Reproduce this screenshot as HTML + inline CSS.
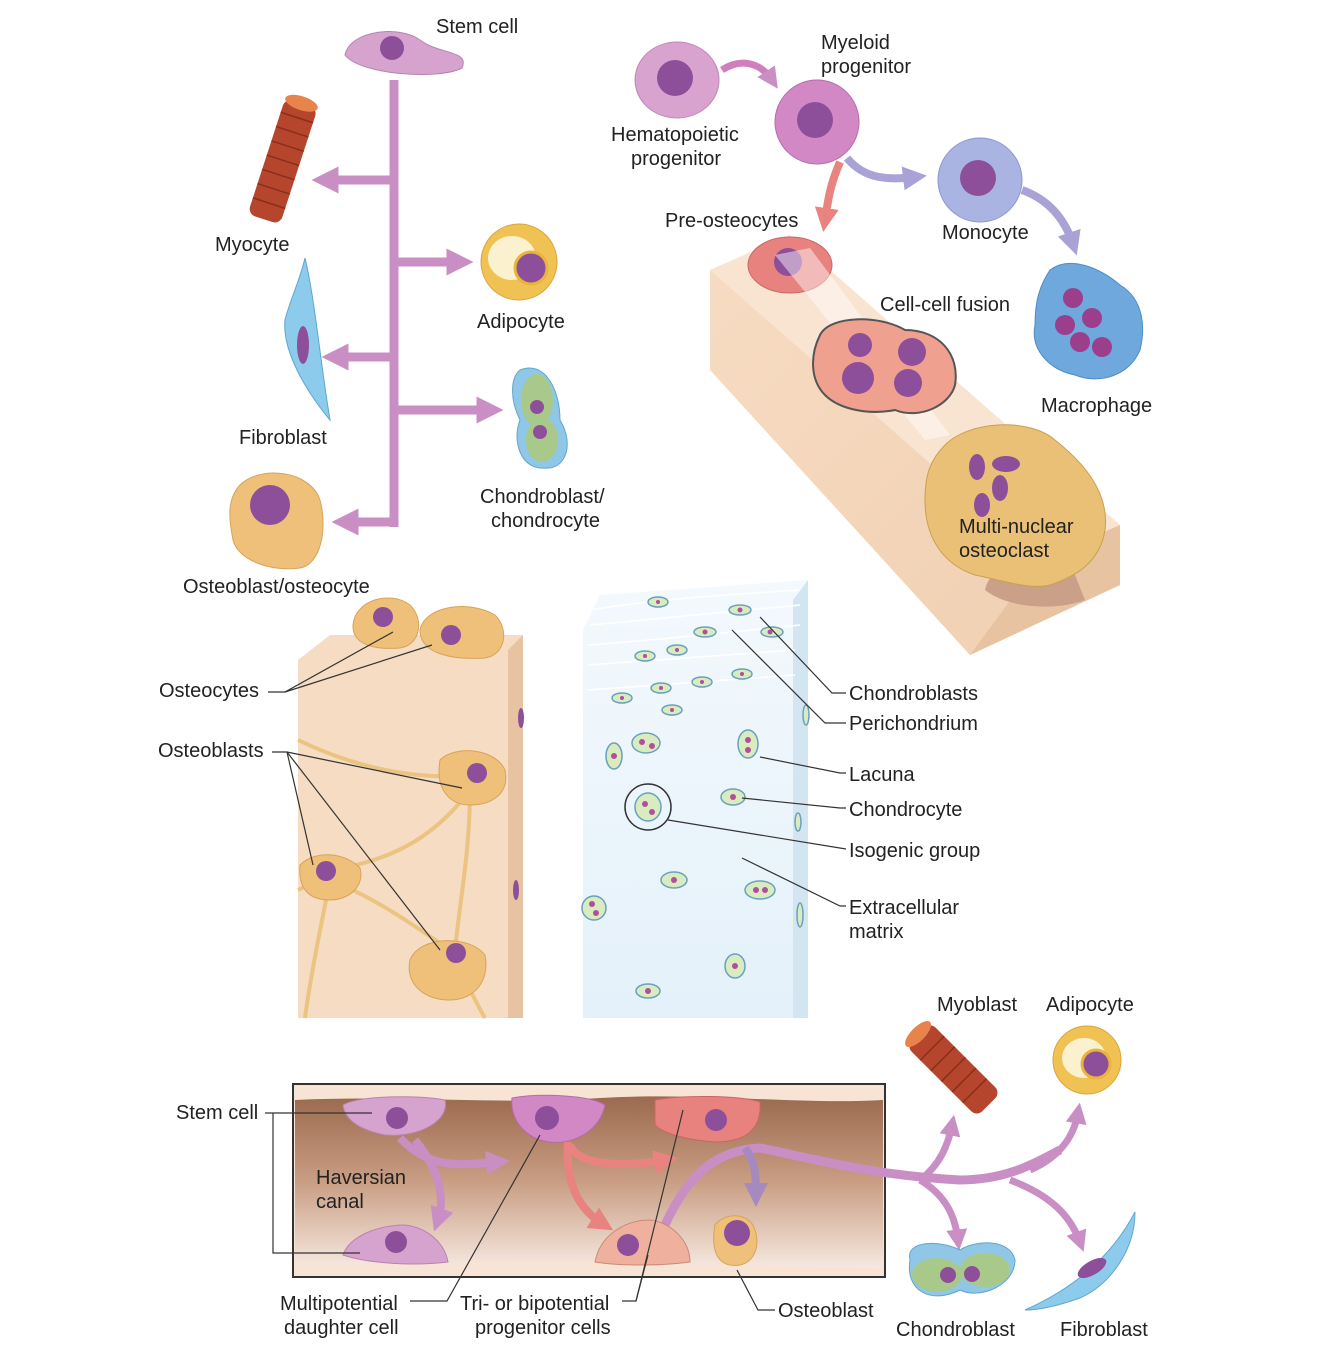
<!DOCTYPE html>
<html><head><meta charset="utf-8"><style>
html,body{margin:0;padding:0;background:#fff;}
svg{display:block;}
text{font-family:"Liberation Sans",sans-serif;font-size:20px;fill:#222;}
</style></head><body>
<svg width="1334" height="1354" viewBox="0 0 1334 1354" xmlns="http://www.w3.org/2000/svg">
<defs>
<marker id="ap" markerWidth="3" markerHeight="3" refX="1.5" refY="1.5" orient="auto" markerUnits="strokeWidth"><path d="M0,0 L3,1.5 L0,3 Z" fill="#c98fc4"/></marker>
<marker id="ar" markerWidth="3" markerHeight="3" refX="1.5" refY="1.5" orient="auto" markerUnits="strokeWidth"><path d="M0,0 L3,1.5 L0,3 Z" fill="#e8837f"/></marker>
<marker id="av" markerWidth="3" markerHeight="3" refX="1.5" refY="1.5" orient="auto" markerUnits="strokeWidth"><path d="M0,0 L3,1.5 L0,3 Z" fill="#a9a2d6"/></marker>
<marker id="am" markerWidth="3" markerHeight="3" refX="1.5" refY="1.5" orient="auto" markerUnits="strokeWidth"><path d="M0,0 L3,1.5 L0,3 Z" fill="#a58ac0"/></marker>
<linearGradient id="canal" x1="0" y1="0" x2="0" y2="1"><stop offset="0" stop-color="#9c6a4e"/><stop offset="0.5" stop-color="#c99e84"/><stop offset="1" stop-color="#f6e8e0"/></linearGradient>
<linearGradient id="beam" x1="0" y1="0" x2="1" y2="1"><stop offset="0" stop-color="#f7dcc3"/><stop offset="1" stop-color="#f0cfb1"/></linearGradient>
<linearGradient id="cart" x1="0" y1="0" x2="0" y2="1"><stop offset="0" stop-color="#f3f9fd"/><stop offset="1" stop-color="#e4f1fa"/></linearGradient>
</defs>

<g stroke="#c98fc4" stroke-width="9" fill="none">
<line x1="394" y1="80" x2="394" y2="527"/>
<line x1="394" y1="180" x2="325" y2="180" marker-end="url(#ap)"/>
<line x1="394" y1="262" x2="460" y2="262" marker-end="url(#ap)"/>
<line x1="394" y1="357" x2="335" y2="357" marker-end="url(#ap)"/>
<line x1="394" y1="410" x2="490" y2="410" marker-end="url(#ap)"/>
<line x1="398" y1="522" x2="345" y2="522" marker-end="url(#ap)"/>
</g>
<path d="M345,55 C350,30 400,25 420,40 C440,55 470,50 462,68 C440,80 360,75 345,55Z" fill="#d6a3cf" stroke="#b684b0"/>
<circle cx="392" cy="48" r="12" fill="#8e4f9a"/>
<text x="436" y="33">Stem cell</text>

<g transform="rotate(18 282 160)">
<rect x="266" y="100" width="34" height="122" rx="8" fill="#b5452c"/>
<g stroke="#8a2e1c" stroke-width="1.5">
<line x1="266" y1="115" x2="300" y2="115"/><line x1="266" y1="130" x2="300" y2="130"/><line x1="266" y1="145" x2="300" y2="145"/><line x1="266" y1="160" x2="300" y2="160"/><line x1="266" y1="175" x2="300" y2="175"/><line x1="266" y1="190" x2="300" y2="190"/><line x1="266" y1="205" x2="300" y2="205"/></g>
<ellipse cx="283" cy="100" rx="17" ry="7" fill="#e8834c"/>
</g>
<text x="215" y="251">Myocyte</text>

<circle cx="519" cy="262" r="38" fill="#efc253" stroke="#d9a53c"/>
<ellipse cx="512" cy="258" rx="24" ry="22" fill="#fbf1cf"/>
<circle cx="531" cy="268" r="16" fill="#8e4f9a" stroke="#e8b43b" stroke-width="3"/>
<text x="477" y="328">Adipocyte</text>

<path d="M305,258 C315,300 320,360 330,420 C305,390 282,350 285,320 C290,300 300,280 305,258Z" fill="#8dcbec" stroke="#5ea7d0"/>
<ellipse cx="303" cy="345" rx="6" ry="19" fill="#8e4f9a"/>
<text x="239" y="444">Fibroblast</text>

<path d="M520,370 C545,360 560,390 560,420 C575,445 565,470 545,468 C520,470 512,440 520,420 C510,400 510,378 520,370Z" fill="#90c7e6" stroke="#5ea7d0"/>
<ellipse cx="537" cy="400" rx="16" ry="26" fill="#a8c98a"/>
<ellipse cx="542" cy="440" rx="16" ry="22" fill="#a8c98a"/>
<circle cx="537" cy="407" r="7" fill="#8e4f9a"/><circle cx="540" cy="432" r="7" fill="#8e4f9a"/>
<text x="480" y="503">Chondroblast/</text>
<text x="491" y="527">chondrocyte</text>

<path d="M240,485 C260,465 310,470 320,500 C328,530 320,565 300,568 C270,572 238,560 233,540 C228,515 228,498 240,485Z" fill="#eec079" stroke="#d8a35a"/>
<circle cx="270" cy="505" r="20" fill="#8e4f9a"/>
<text x="183" y="593">Osteoblast/osteocyte</text>

<path d="M710,270 L790,235 L1120,525 L1120,585 L970,655 L710,370Z" fill="url(#beam)"/>
<path d="M710,270 L790,235 L1120,525 L1040,560Z" fill="#f9e4d2"/>
<path d="M1040,560 L1120,525 L1120,585 L970,655Z" fill="#e8c3a2"/>
<path d="M985,590 C990,560 1040,560 1075,575 L1085,600 C1060,610 1010,610 985,590Z" fill="#caa088"/>
<ellipse cx="677" cy="80" rx="42" ry="38" fill="#d9a3d0" stroke="#bf86b8"/>
<circle cx="675" cy="78" r="18" fill="#8e4f9a"/>
<text x="611" y="141">Hematopoietic</text>
<text x="631" y="165">progenitor</text>
<path d="M722,70 C740,58 760,62 772,80" stroke="#d07fbd" stroke-width="7" fill="none" marker-end="url(#ap)"/>
<circle cx="817" cy="122" r="42" fill="#d388c6" stroke="#b66aab"/>
<circle cx="815" cy="120" r="18" fill="#8e4f9a"/>
<text x="821" y="49">Myeloid</text>
<text x="821" y="73">progenitor</text>
<path d="M847,158 C865,180 890,180 915,177" stroke="#a9a2d6" stroke-width="8" fill="none" marker-end="url(#av)"/>
<path d="M840,162 C830,185 828,200 825,220" stroke="#e8837f" stroke-width="8" fill="none" marker-end="url(#ar)"/>
<text x="665" y="227">Pre-osteocytes</text>
<circle cx="980" cy="180" r="42" fill="#aab4e3" stroke="#8d97cf"/>
<circle cx="978" cy="178" r="18" fill="#8e4f9a"/>
<text x="942" y="239">Monocyte</text>
<path d="M1022,190 C1050,200 1065,220 1073,244" stroke="#a9a2d6" stroke-width="8" fill="none" marker-end="url(#av)"/>
<path d="M1050,270 C1070,255 1100,268 1120,285 C1145,300 1145,330 1140,350 C1130,375 1100,385 1075,375 C1050,370 1030,350 1035,325 C1035,300 1040,285 1050,270Z" fill="#6fa8dc" stroke="#4f8cc4"/>
<circle cx="1073" cy="298" r="10" fill="#9b3f8c"/><circle cx="1092" cy="318" r="10" fill="#9b3f8c"/><circle cx="1065" cy="325" r="10" fill="#9b3f8c"/><circle cx="1080" cy="342" r="10" fill="#9b3f8c"/><circle cx="1102" cy="347" r="10" fill="#9b3f8c"/>
<text x="1041" y="412">Macrophage</text>
<ellipse cx="790" cy="265" rx="42" ry="28" fill="#e8827f" stroke="#c86664"/>
<circle cx="788" cy="262" r="14" fill="#8e4f9a"/>
<path d="M775,255 L810,248 L950,435 L925,440Z" fill="#fff" opacity="0.45"/>
<text x="880" y="311">Cell-cell fusion</text>
<path d="M820,335 C830,315 880,315 905,330 C940,330 960,355 955,385 C950,405 920,420 895,410 C870,415 840,410 825,395 C810,380 810,355 820,335Z" fill="#f0a08f" stroke="#555" stroke-width="2"/>
<circle cx="858" cy="378" r="16" fill="#8e4f9a"/><circle cx="912" cy="352" r="14" fill="#8e4f9a"/><circle cx="908" cy="383" r="14" fill="#8e4f9a"/><circle cx="860" cy="345" r="12" fill="#8e4f9a"/>
<path d="M945,445 C970,420 1030,418 1055,440 C1080,460 1110,490 1105,530 C1100,560 1080,575 1050,585 C1030,590 1000,580 975,575 C945,565 925,540 925,500 C925,475 930,460 945,445Z" fill="#e9c075" stroke="#c9a050"/>
<ellipse cx="977" cy="467" rx="8" ry="13" fill="#8e4f9a"/><ellipse cx="1006" cy="464" rx="14" ry="8" fill="#8e4f9a"/><ellipse cx="1000" cy="488" rx="8" ry="13" fill="#8e4f9a"/><ellipse cx="982" cy="505" rx="8" ry="12" fill="#8e4f9a"/>
<text x="959" y="533">Multi-nuclear</text>
<text x="959" y="557">osteoclast</text>

<path d="M298,660 L330,635 L523,635 L523,1018 L298,1018Z" fill="#f5dcc3"/>
<path d="M508,650 L523,635 L523,1018 L508,1018Z" fill="#e8c3a2"/>
<g stroke="#ebc482" stroke-width="4" fill="none">
<path d="M298,740 C360,770 420,780 470,775"/>
<path d="M470,790 C440,830 400,860 330,870"/>
<path d="M470,790 C470,850 460,900 455,950"/>
<path d="M330,880 C380,900 420,930 450,950"/>
<path d="M330,880 C320,930 310,980 305,1018"/>
<path d="M455,960 C470,990 480,1010 485,1018"/>
<path d="M298,890 L330,875"/>
</g>
<path d="M440,760 C455,745 495,748 505,770 C510,795 490,805 470,805 C450,805 435,790 440,760Z" fill="#eec079" stroke="#d8a35a"/>
<circle cx="477" cy="773" r="10" fill="#8e4f9a"/>
<path d="M300,865 C315,850 345,852 360,868 C365,885 350,900 330,900 C310,900 298,890 300,865Z" fill="#eec079" stroke="#d8a35a"/>
<circle cx="326" cy="871" r="10" fill="#8e4f9a"/>
<path d="M410,960 C420,935 470,935 485,955 C490,980 475,1000 450,1000 C425,1000 405,985 410,960Z" fill="#eec079" stroke="#d8a35a"/>
<circle cx="456" cy="953" r="10" fill="#8e4f9a"/>
<path d="M353,625 C355,600 390,590 410,605 C425,620 420,645 400,648 C375,650 352,645 353,625Z" fill="#eec079" stroke="#d8a35a"/>
<circle cx="383" cy="617" r="10" fill="#8e4f9a"/>
<path d="M420,630 C425,605 470,600 495,615 C510,630 505,655 485,658 C455,660 420,655 420,630Z" fill="#eec079" stroke="#d8a35a"/>
<circle cx="451" cy="635" r="10" fill="#8e4f9a"/>
<ellipse cx="521" cy="718" rx="3" ry="10" fill="#8e4f9a"/><ellipse cx="516" cy="890" rx="3" ry="10" fill="#8e4f9a"/>
<text x="159" y="697">Osteocytes</text>
<text x="158" y="757">Osteoblasts</text>
<g stroke="#333" stroke-width="1.2" fill="none">
<path d="M268,692 L285,692 L393,632"/><path d="M285,692 L432,645"/>
<path d="M272,752 L287,752 L462,788"/><path d="M287,752 L313,865"/><path d="M287,752 L440,950"/>
</g>

<path d="M583,630 L600,595 L808,580 L808,1018 L583,1018Z" fill="url(#cart)"/>
<path d="M793,600 L808,580 L808,1018 L793,1018Z" fill="#d3e5f1"/>
<g fill="none" stroke="#fff" stroke-width="1.5">
<path d="M590,610 C650,600 720,595 800,590"/><path d="M590,625 C660,618 730,612 800,605"/><path d="M588,645 C660,640 730,632 800,625"/><path d="M588,665 C660,660 730,655 795,650"/><path d="M588,690 C660,685 730,680 795,675"/>
</g>
<g fill="#d8ecc0" stroke="#6aa0c0" stroke-width="1.5">
<ellipse cx="658" cy="602" rx="10" ry="5"/><ellipse cx="740" cy="610" rx="11" ry="5"/><ellipse cx="705" cy="632" rx="11" ry="5"/><ellipse cx="772" cy="632" rx="11" ry="5"/>
<ellipse cx="645" cy="656" rx="10" ry="5"/><ellipse cx="677" cy="650" rx="10" ry="5"/><ellipse cx="742" cy="674" rx="10" ry="5"/><ellipse cx="702" cy="682" rx="10" ry="5"/><ellipse cx="661" cy="688" rx="10" ry="5"/><ellipse cx="622" cy="698" rx="10" ry="5"/><ellipse cx="672" cy="710" rx="10" ry="5"/>
<ellipse cx="646" cy="743" rx="14" ry="10"/><ellipse cx="614" cy="756" rx="8" ry="13"/><ellipse cx="748" cy="744" rx="10" ry="14"/><ellipse cx="733" cy="797" rx="12" ry="8"/>
<ellipse cx="648" cy="807" rx="13" ry="14"/><ellipse cx="674" cy="880" rx="13" ry="8"/><ellipse cx="760" cy="890" rx="15" ry="9"/><ellipse cx="594" cy="908" rx="12" ry="12"/><ellipse cx="735" cy="966" rx="10" ry="12"/><ellipse cx="648" cy="991" rx="12" ry="7"/>
<ellipse cx="798" cy="822" rx="3" ry="9"/><ellipse cx="800" cy="915" rx="3" ry="12"/><ellipse cx="806" cy="715" rx="3" ry="10"/>
</g>
<g fill="#b0509a">
<circle cx="658" cy="602" r="2"/><circle cx="740" cy="610" r="2.5"/><circle cx="705" cy="632" r="2.5"/><circle cx="770" cy="632" r="2.5"/><circle cx="645" cy="656" r="2"/><circle cx="677" cy="650" r="2"/><circle cx="742" cy="674" r="2"/><circle cx="702" cy="682" r="2"/><circle cx="661" cy="688" r="2"/><circle cx="622" cy="698" r="2"/><circle cx="672" cy="710" r="2"/>
<circle cx="642" cy="742" r="3"/><circle cx="652" cy="746" r="3"/><circle cx="614" cy="756" r="3"/><circle cx="748" cy="740" r="3"/><circle cx="748" cy="750" r="3"/><circle cx="733" cy="797" r="3"/><circle cx="645" cy="804" r="3"/><circle cx="652" cy="812" r="3"/><circle cx="674" cy="880" r="3"/><circle cx="756" cy="890" r="3"/><circle cx="765" cy="890" r="3"/><circle cx="592" cy="904" r="3"/><circle cx="596" cy="913" r="3"/><circle cx="735" cy="966" r="3"/><circle cx="648" cy="991" r="3"/>
</g>
<circle cx="648" cy="807" r="23" fill="none" stroke="#333" stroke-width="1.5"/>
<g stroke="#333" stroke-width="1.2" fill="none">
<path d="M760,617 L832,693 L846,693"/><path d="M732,630 L825,723 L846,723"/>
<path d="M760,757 L840,773 L846,773"/><path d="M742,798 L840,808 L846,808"/>
<path d="M668,820 L846,849"/><path d="M742,858 L840,906 L846,906"/>
</g>
<text x="849" y="700">Chondroblasts</text>
<text x="849" y="730">Perichondrium</text>
<text x="849" y="781">Lacuna</text>
<text x="849" y="816">Chondrocyte</text>
<text x="849" y="857">Isogenic group</text>
<text x="849" y="914">Extracellular</text>
<text x="849" y="938">matrix</text>

<rect x="293" y="1084" width="592" height="193" fill="#f8e4d4" stroke="#333" stroke-width="2"/>
<path d="M295,1100 C400,1095 500,1105 600,1098 C700,1092 800,1105 883,1100 L883,1268 C800,1265 700,1268 600,1262 C500,1258 400,1268 295,1262Z" fill="url(#canal)"/>
<g stroke="#c98fc4" stroke-width="8" fill="none">
<path d="M400,1138 C430,1170 460,1165 498,1162" marker-end="url(#ap)"/>
<path d="M415,1140 C440,1170 445,1200 438,1220" marker-end="url(#ap)"/>
</g>
<g stroke="#e8837f" stroke-width="8" fill="none">
<path d="M570,1145 C580,1170 640,1165 666,1160" marker-end="url(#ar)"/>
<path d="M568,1142 C565,1185 580,1210 603,1224" marker-end="url(#ar)"/>
</g>
<path d="M665,1225 C690,1170 720,1150 760,1148 C820,1160 870,1175 960,1180 C1010,1180 1040,1160 1060,1150" stroke="#c98fc4" stroke-width="9" fill="none"/>
<path d="M745,1148 C755,1160 756,1175 756,1195" stroke="#a58ac0" stroke-width="8" fill="none" marker-end="url(#am)"/>
<g stroke="#c98fc4" stroke-width="7" fill="none">
<path d="M920,1180 C940,1165 948,1145 952,1125" marker-end="url(#ap)"/>
<path d="M1030,1170 C1065,1155 1075,1130 1078,1113" marker-end="url(#ap)"/>
<path d="M920,1180 C945,1195 955,1215 958,1240" marker-end="url(#ap)"/>
<path d="M1010,1180 C1050,1195 1070,1215 1080,1242" marker-end="url(#ap)"/>
</g>
<path d="M343,1105 C360,1095 420,1095 445,1100 C450,1120 420,1138 385,1135 C360,1130 345,1120 343,1105Z" fill="#d6a3cf" stroke="#b684b0"/>
<circle cx="397" cy="1118" r="11" fill="#8e4f9a"/>
<path d="M343,1255 C350,1235 380,1225 405,1225 C430,1228 445,1245 448,1262 C415,1266 370,1264 343,1255Z" fill="#d6a3cf" stroke="#b684b0"/>
<circle cx="396" cy="1242" r="11" fill="#8e4f9a"/>
<path d="M512,1098 C540,1093 590,1095 605,1105 C600,1130 575,1145 548,1142 C525,1138 510,1120 512,1098Z" fill="#d388c6" stroke="#b66aab"/>
<circle cx="547" cy="1118" r="12" fill="#8e4f9a"/>
<path d="M655,1100 C680,1095 740,1095 760,1102 C762,1130 745,1142 715,1142 C690,1140 665,1135 655,1125Z" fill="#e8827f" stroke="#c86664"/>
<circle cx="716" cy="1120" r="11" fill="#8e4f9a"/>
<path d="M595,1262 C600,1235 625,1220 650,1220 C670,1222 690,1240 690,1262 C660,1266 620,1266 595,1262Z" fill="#f0b09e" stroke="#c88a7c"/>
<circle cx="628" cy="1245" r="11" fill="#8e4f9a"/>
<path d="M715,1225 C725,1212 750,1212 755,1230 C760,1245 755,1262 740,1265 C720,1268 710,1255 715,1225Z" fill="#eec079" stroke="#d8a35a"/>
<circle cx="737" cy="1233" r="13" fill="#8e4f9a"/>
<text x="316" y="1184">Haversian</text>
<text x="316" y="1208">canal</text>
<g transform="rotate(-45 952 1068)">
<rect x="935" y="1020" width="34" height="100" rx="8" fill="#b5452c"/>
<g stroke="#8a2e1c" stroke-width="1.5"><line x1="935" y1="1040" x2="969" y2="1040"/><line x1="935" y1="1055" x2="969" y2="1055"/><line x1="935" y1="1070" x2="969" y2="1070"/><line x1="935" y1="1085" x2="969" y2="1085"/><line x1="935" y1="1100" x2="969" y2="1100"/></g>
<ellipse cx="952" cy="1020" rx="17" ry="7" fill="#e8834c"/>
</g>
<circle cx="1087" cy="1060" r="34" fill="#efc253" stroke="#d9a53c"/>
<ellipse cx="1084" cy="1058" rx="22" ry="20" fill="#fbf1cf"/>
<circle cx="1096" cy="1064" r="14" fill="#8e4f9a" stroke="#e8b43b" stroke-width="3"/>
<path d="M910,1260 C905,1240 940,1240 960,1250 C975,1240 1010,1238 1015,1260 C1015,1285 980,1300 960,1290 C930,1305 905,1290 910,1260Z" fill="#90c7e6" stroke="#5ea7d0"/>
<ellipse cx="937" cy="1275" rx="25" ry="17" fill="#a8c98a"/><ellipse cx="985" cy="1270" rx="25" ry="17" fill="#a8c98a"/>
<circle cx="948" cy="1275" r="8" fill="#8e4f9a"/><circle cx="972" cy="1274" r="8" fill="#8e4f9a"/>
<path d="M1025,1310 C1070,1290 1110,1260 1135,1212 C1135,1250 1110,1285 1080,1298 C1060,1305 1040,1310 1025,1310Z" fill="#8dcbec" stroke="#5ea7d0"/>
<ellipse cx="1092" cy="1268" rx="16" ry="7" transform="rotate(-30 1092 1268)" fill="#8e4f9a"/>
<text x="937" y="1011">Myoblast</text>
<text x="1046" y="1011">Adipocyte</text>
<text x="896" y="1336">Chondroblast</text>
<text x="1060" y="1336">Fibroblast</text>
<g stroke="#333" stroke-width="1.2" fill="none">
<path d="M265,1113 L372,1113"/><path d="M273,1113 L273,1253 L360,1253"/>
<path d="M410,1301 L447,1301 L540,1135"/>
<path d="M622,1301 L636,1301 L683,1110"/><path d="M636,1301 L648,1255"/>
<path d="M775,1310 L758,1310 L737,1270"/>
</g>
<text x="176" y="1119">Stem cell</text>
<text x="280" y="1310">Multipotential</text>
<text x="284" y="1334">daughter cell</text>
<text x="460" y="1310">Tri- or bipotential</text>
<text x="475" y="1334">progenitor cells</text>
<text x="778" y="1317">Osteoblast</text>
</svg>
</body></html>
